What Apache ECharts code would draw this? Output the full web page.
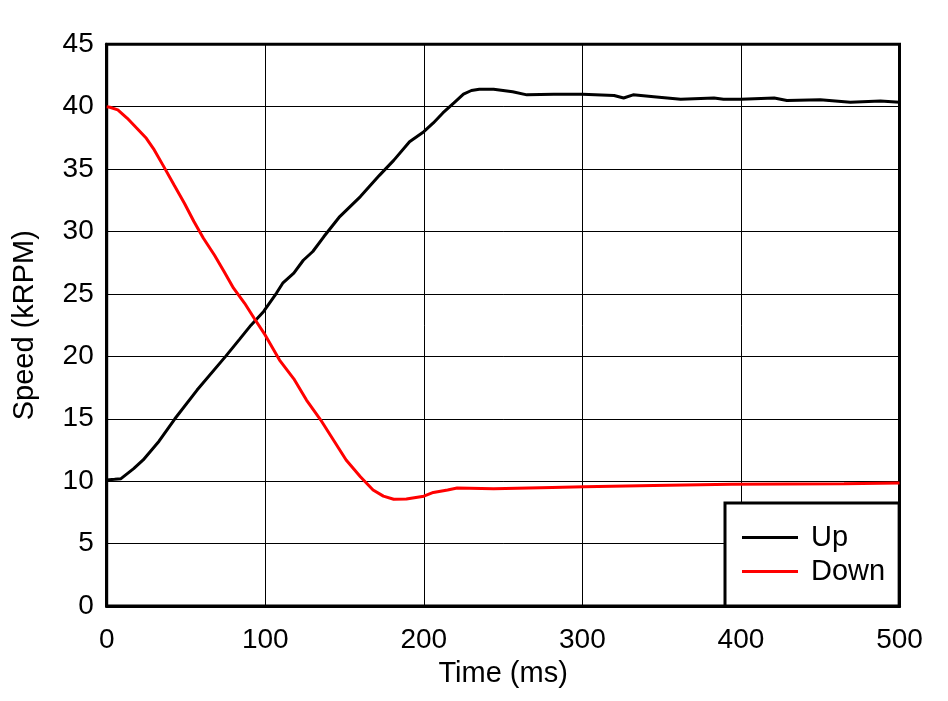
<!DOCTYPE html>
<html>
<head>
<meta charset="utf-8">
<script src="https://cdn.jsdelivr.net/npm/echarts@6/dist/echarts.min.js"></script>
<style>
html,body{margin:0;padding:0;background:#fff;}
#chart{width:948px;height:701px;}
</style>
</head>
<body>
<div id="chart"></div>
<script>
const seriesNames = ['Up', 'Down'];
const xTicks = [0, 100, 200, 300, 400, 500];
const yTicks = [0, 5, 10, 15, 20, 25, 30, 35, 40, 45];

const upTime  = [0, 5, 9, 17, 23, 33, 43, 57, 75, 84, 91, 99, 107, 111, 118, 124, 130, 137, 147, 160, 172, 181, 191, 200, 206, 212, 219, 225, 230, 235, 244, 256, 265, 282, 300, 320, 326, 332, 345, 362, 383, 389, 400, 421, 429, 450, 469, 488, 500];
const upSpeed = [10.1, 10.15, 10.2, 11.0, 11.7, 13.2, 15.0, 17.3, 20.0, 21.4, 22.5, 23.6, 25.05, 25.86, 26.66, 27.7, 28.4, 29.6, 31.2, 32.8, 34.5, 35.7, 37.2, 38.0, 38.7, 39.5, 40.3, 41.0, 41.3, 41.4, 41.4, 41.2, 40.95, 41.0, 41.0, 40.9, 40.7, 40.95, 40.8, 40.6, 40.7, 40.6, 40.6, 40.7, 40.5, 40.55, 40.35, 40.45, 40.35];

const downTime  = [0, 2, 7, 13, 19, 25, 30, 36, 42.5, 49, 55, 61, 68, 74, 80, 87, 93, 100, 109, 118, 126, 135, 143, 151, 160, 168, 174.5, 181, 189, 200, 206, 215, 221, 244, 281, 301, 345, 394, 465, 500];
const downSpeed = [40.0, 39.96, 39.74, 39.07, 38.28, 37.47, 36.54, 35.2, 33.73, 32.27, 30.8, 29.46, 28.1, 26.8, 25.46, 24.25, 23.05, 21.7, 19.7, 18.2, 16.5, 14.9, 13.3, 11.7, 10.36, 9.3, 8.8, 8.55, 8.57, 8.8, 9.1, 9.3, 9.45, 9.4, 9.5, 9.55, 9.65, 9.75, 9.8, 9.85];

const FONT = "'Liberation Sans', Arial, sans-serif";
const zip = (a, b) => a.map((v, i) => [v, b[i]]);

const chart = echarts.init(document.getElementById('chart'), null, {renderer: 'canvas'});
chart.setOption({
  animation: false,
  backgroundColor: '#fff',
  grid: {
    left: 106.7, right: 48.5, top: 44.3, bottom: 95,
    show: true, borderColor: '#000', borderWidth: 3, backgroundColor: 'transparent'
  },
  xAxis: {
    type: 'value', min: xTicks[0], max: xTicks[xTicks.length - 1], interval: 100,
    name: 'Time (ms)', nameLocation: 'middle', nameGap: 53,
    nameTextStyle: {fontFamily: FONT, fontSize: 29, color: '#000'},
    axisLine: {show: true, lineStyle: {color: '#000', width: 3}},
    axisTick: {show: false},
    axisLabel: {fontFamily: FONT, fontSize: 28, color: '#000', margin: 20},
    splitLine: {show: true, lineStyle: {color: '#000', width: 1}}
  },
  yAxis: {
    type: 'value', min: yTicks[0], max: yTicks[yTicks.length - 1], interval: 5,
    name: 'Speed (kRPM)', nameLocation: 'middle', nameGap: 67,
    nameTextStyle: {fontFamily: FONT, fontSize: 29, color: '#000'},
    axisLine: {show: true, lineStyle: {color: '#000', width: 3}},
    axisTick: {show: false},
    axisLabel: {fontFamily: FONT, fontSize: 28, color: '#000', margin: 13},
    splitLine: {show: true, lineStyle: {color: '#000', width: 1}}
  },
  legend: {
    data: seriesNames,
    orient: 'vertical',
    left: 725, top: 503,
    padding: [20, 14, 20, 17],
    itemWidth: 56, itemHeight: 3, itemGap: 5,
    icon: 'rect',
    backgroundColor: '#fff', borderColor: '#000', borderWidth: 3,
    textStyle: {fontFamily: FONT, fontSize: 29, color: '#000', lineHeight: 29, padding: [0, 0, 0, 8]}
  },
  series: [
    {name: seriesNames[0], type: 'line', data: zip(upTime, upSpeed), showSymbol: false, symbol: 'none',
     lineStyle: {color: '#000', width: 3}, itemStyle: {color: '#000'}, z: 3},
    {name: seriesNames[1], type: 'line', data: zip(downTime, downSpeed), showSymbol: false, symbol: 'none',
     lineStyle: {color: '#ff0000', width: 3}, itemStyle: {color: '#ff0000'}, z: 3}
  ]
});
</script>
</body>
</html>
